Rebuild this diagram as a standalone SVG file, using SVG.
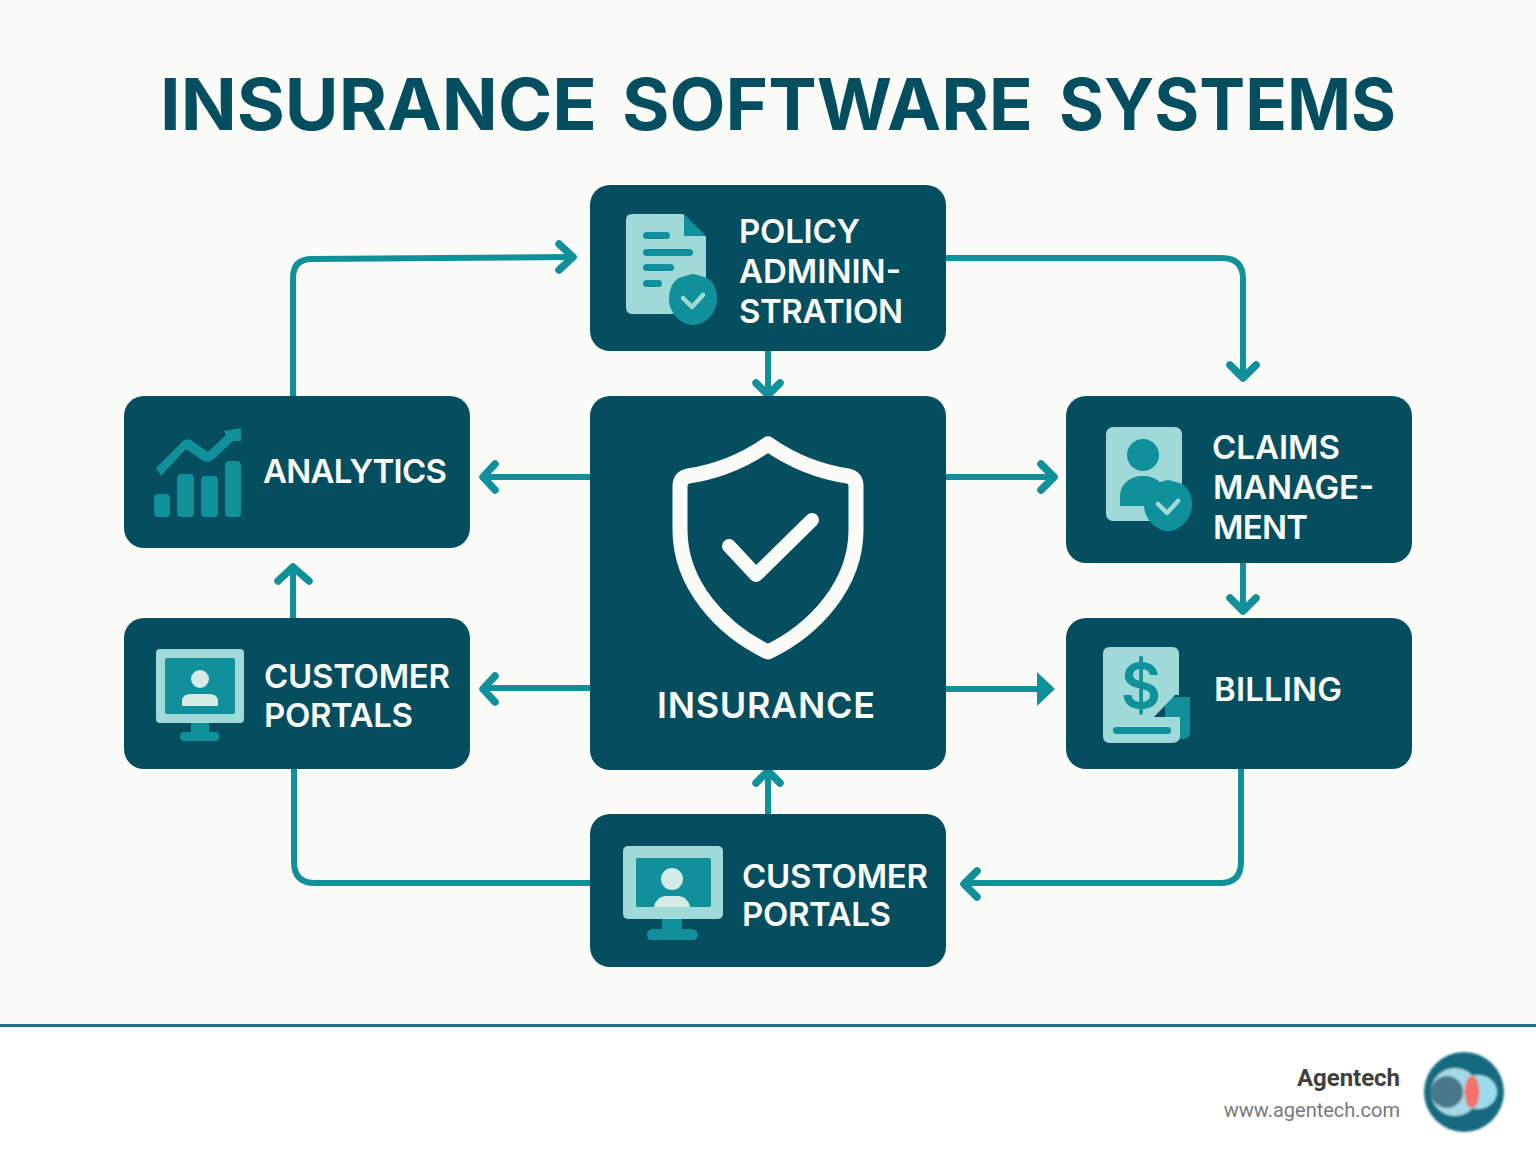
<svg xmlns="http://www.w3.org/2000/svg" width="1536" height="1154" viewBox="0 0 1536 1154">
<defs>
<style>
.n{fill:#044e60}
.t{font-family:Inter,"Liberation Sans",sans-serif;font-weight:600;font-size:33px;fill:#fbfcf8}
.c{fill:none;stroke:#10909a;stroke-width:6;stroke-linejoin:round}
.h{fill:none;stroke:#10909a;stroke-width:7.5;stroke-linecap:round;stroke-linejoin:round}
.a{fill:#10909a}.l{fill:#9fd9d8}.p{fill:#d5ebe8}
</style>
<filter id="soft" x="-10%" y="-10%" width="120%" height="120%"><feGaussianBlur stdDeviation="0.9"/></filter>
<g id="shield"><path d="M0-25C5-24 9-23 14-21C21-17 24-9 24 0C24 14 12 26 0 26C-12 26-24 14-24 0C-24-9-21-17-14-21C-9-23-5-24 0-25Z" class="a"/><path d="M-10-1L-1 8L10-4" fill="none" stroke="#9fd9d8" stroke-width="4.5" stroke-linecap="round" stroke-linejoin="round"/></g>
</defs>
<rect width="1536" height="1026" fill="#fbfcf8"/>
<rect y="1026" width="1536" height="128" fill="#fff"/>
<rect y="1024" width="1536" height="3" fill="#1b7386"/>
<text id="title" y="130" font-family="Inter,'Liberation Sans',sans-serif" font-weight="700" font-size="72" fill="#044e60"><tspan x="160" textLength="437" lengthAdjust="spacingAndGlyphs">INSURANCE</tspan> <tspan x="622" textLength="411" lengthAdjust="spacingAndGlyphs">SOFTWARE</tspan> <tspan x="1059" textLength="337" lengthAdjust="spacingAndGlyphs">SYSTEMS</tspan></text>
<g id="connectors">
<path class="c" d="M293 397V278Q293 259 312 259L570 257"/><path class="h" d="M559 244L573 257L559 270"/>
<path class="c" d="M946 258H1222Q1243 258 1243 279V376"/><path class="h" d="M1230 365L1243 378L1256 365"/>
<path class="c" d="M768 351V393"/><path class="h" d="M756 383L768 395L780 383"/>
<path class="c" d="M590 477H486"/><path class="h" d="M495 464L483 477L495 490"/>
<path class="c" d="M946 477H1051"/><path class="h" d="M1041 464L1054 477L1041 490"/>
<path class="c" d="M590 688H486"/><path class="h" d="M495 676L483 689L495 702"/>
<path class="c" d="M946 689H1050"/><path class="a" d="M1037 672L1055 689L1037 706Z"/>
<path class="c" d="M1243 563V610"/><path class="h" d="M1230 598L1243 611L1256 598"/>
<path class="c" d="M293 618V570"/><path class="h" d="M278 581L293 567L309 581"/>
<path class="c" d="M1241 769V862Q1241 883 1220 883H966"/><path class="h" d="M977 871L964 884L977 897"/>
<path class="c" d="M768 814V773"/><path class="h" d="M756 783L768 771L780 783"/>
<path class="c" d="M590 883H315Q294 883 294 862V769"/>
</g>
<g id="node-policy"><rect class="n" x="590" y="185" width="356" height="166" rx="20"/>
<path class="l" d="M632 214H683L706 237V307Q706 314 699 314H632Q626 314 626 307V220Q626 214 632 214Z"/><path class="a" d="M684 214L706 236H684Z"/>
<g class="a"><rect x="643" y="232" width="27" height="7" rx="3.5"/><rect x="643" y="249" width="50" height="7" rx="3.5"/><rect x="643" y="264" width="31" height="7" rx="3.5"/><rect x="643" y="280" width="19" height="7" rx="3.5"/></g>
<use href="#shield" x="693" y="299"/>
<text class="t" x="739" y="243" textLength="121">POLICY</text><text class="t" x="739" y="283" textLength="162">ADMININ-</text><text class="t" x="739" y="323" textLength="164">STRATION</text></g>
<g id="node-insurance"><rect class="n" x="590" y="396" width="356" height="374" rx="20"/>
<path d="M768 444C745 460 716 472 688 476Q680 478 680 486V530C680 585 722 630 768 652C814 630 856 585 856 530V486Q856 478 848 476C820 472 791 460 768 444Z" fill="none" stroke="#fbfcf8" stroke-width="15" stroke-linejoin="round"/>
<path d="M729 546L756 575L812 520" fill="none" stroke="#fbfcf8" stroke-width="14" stroke-linecap="round" stroke-linejoin="round"/>
<text class="t" style="font-size:36px" x="657" y="718" textLength="218">INSURANCE</text></g>
<g id="node-analytics"><rect class="n" x="124" y="396" width="346" height="152" rx="20"/>
<g class="a"><rect x="154" y="494" width="16" height="23" rx="4"/><rect x="177" y="474" width="17" height="43" rx="4"/><rect x="201" y="476" width="17" height="41" rx="4"/><rect x="225" y="461" width="16" height="56" rx="4"/><path d="M241 428V441L233 441L214 459Q208 464 202 460L186 449L161 476L156 468L183 441Q186 438 191 440L208 452L226 435L224 431Z"/></g>
<text class="t" x="263" y="483" textLength="184">ANALYTICS</text></g>
<g id="node-claims"><rect class="n" x="1066" y="396" width="346" height="167" rx="20"/>
<rect class="l" x="1106" y="427" width="76" height="94" rx="7"/><circle class="a" cx="1143" cy="455" r="16"/><path class="a" d="M1120 506V497C1120 484 1130 476 1143 476C1156 476 1166 484 1166 497V506Z"/>
<use href="#shield" x="1168" y="505"/>
<text class="t" x="1212" y="459" textLength="128">CLAIMS</text><text class="t" x="1213" y="499" textLength="161">MANAGE-</text><text class="t" x="1213" y="539" textLength="95">MENT</text></g>
<g id="node-billing"><rect class="n" x="1066" y="618" width="346" height="151" rx="20"/>
<path class="a" d="M1160 697L1175 697H1190V731Q1190 739 1182 739H1165V697Z"/>
<path class="l" d="M1110 647H1172Q1179 647 1179 654V695H1175L1154 717H1180V736Q1180 743 1172 743H1110Q1103 743 1103 736V654Q1103 647 1110 647Z"/>
<rect class="a" x="1113" y="727" width="58" height="7" rx="3"/>
<text x="1141" y="708" text-anchor="middle" font-family="Inter,'Liberation Sans',sans-serif" font-size="62" font-weight="600" fill="#10909a">$</text>
<text class="t" x="1214" y="701" textLength="128">BILLING</text></g>
<g id="node-portals-left"><rect class="n" x="124" y="618" width="346" height="151" rx="20"/>
<path class="a" d="M191 722H209V732H216Q219 732 219 737Q219 741 215 741H184Q180 741 180 737Q180 732 184 732H191Z"/>
<rect class="l" x="156" y="649" width="88" height="74" rx="4"/><rect class="a" x="165" y="658" width="70" height="56" rx="2"/>
<circle class="p" cx="200" cy="679" r="9"/><path class="p" d="M182 706V702Q182 694 190 694H210Q218 694 218 702V706Z"/>
<text class="t" x="264" y="688" textLength="186">CUSTOMER</text><text class="t" x="264" y="727" textLength="149">PORTALS</text></g>
<g id="node-portals-bottom"><rect class="n" x="590" y="814" width="356" height="153" rx="20"/>
<path class="a" d="M662 917H682V929H692Q698 930 698 935Q698 940 692 940H652Q647 940 647 935Q647 930 652 929H662Z"/>
<rect class="l" x="623" y="846" width="100" height="73" rx="5"/><rect class="a" x="636" y="858" width="75" height="49" rx="2"/>
<circle class="p" cx="672" cy="879" r="11"/><path class="p" d="M654 907Q656 897 665 896H679Q688 897 690 907Z"/>
<text class="t" x="742" y="888" textLength="186">CUSTOMER</text><text class="t" x="742" y="926" textLength="149">PORTALS</text></g>
<g id="brand">
<text x="1400" y="1086" text-anchor="end" font-family="Roboto,'Liberation Sans',sans-serif" font-weight="700" font-size="24" fill="#3f3f3f" textLength="103">Agentech</text>
<text x="1400" y="1117" text-anchor="end" font-family="Roboto,'Liberation Sans',sans-serif" font-size="20" fill="#77797b">www.agentech.com</text>
<g filter="url(#soft)">
<circle cx="1464" cy="1092" r="40" fill="#176a80"/>
<ellipse cx="1478" cy="1092" rx="19" ry="17" fill="#9ddcec"/>
<ellipse cx="1455" cy="1092" rx="24" ry="24" fill="#a5d9e6"/>
<circle cx="1447" cy="1092" r="16" fill="#49788c"/>
<ellipse cx="1472" cy="1092" rx="7.5" ry="16" fill="#f4736a"/>
</g>
</g>
</svg>
